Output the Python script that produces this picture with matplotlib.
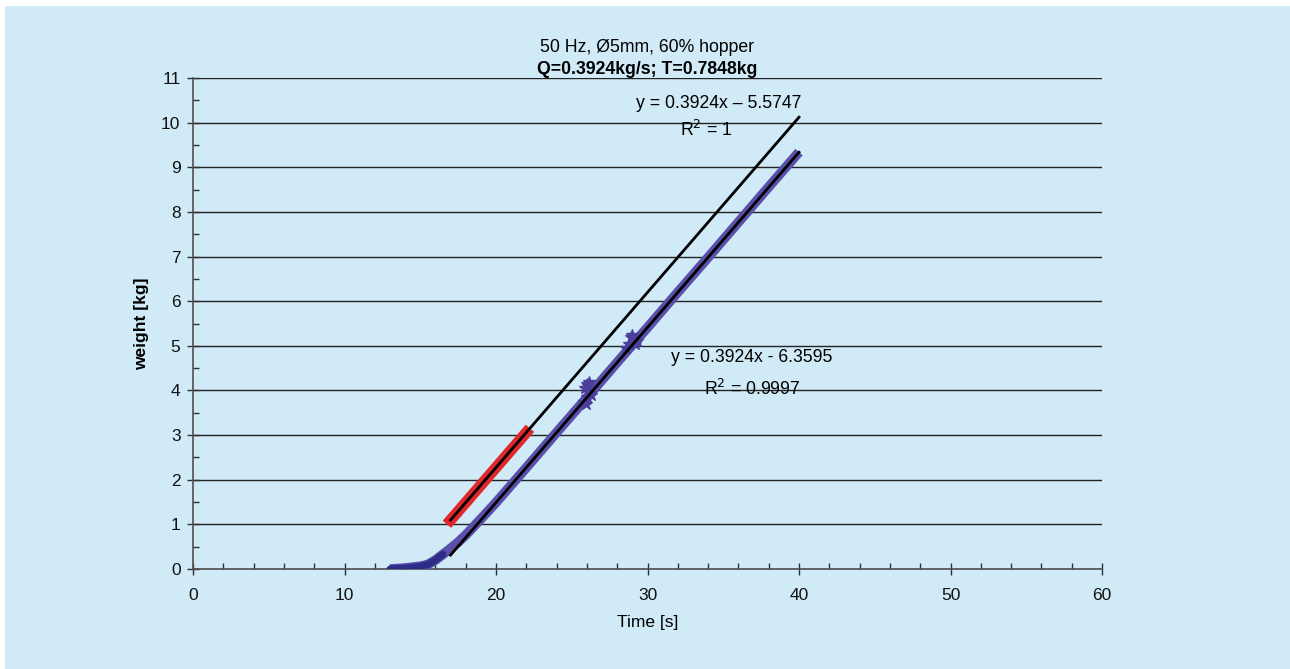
import matplotlib
matplotlib.use("Agg")
import matplotlib.pyplot as plt
from matplotlib.patches import Rectangle
import numpy as np

plt.rcParams['font.family'] = ['Liberation Sans', 'DejaVu Sans']

time_s = [13.0, 13.5, 14.0, 14.5, 15.0, 15.5, 16.0, 16.5, 17.0, 17.5, 18.0, 19.0,
          20.0, 22.0, 24.0, 26.0, 28.0, 30.0, 32.0, 34.0, 36.0, 38.0, 40.0]
weight_kg = [0.0, 0.01, 0.02, 0.04, 0.06, 0.10, 0.20, 0.33, 0.46, 0.60, 0.76, 1.12,
             1.49, 2.27, 3.06, 3.84, 4.63, 5.41, 6.20, 6.98, 7.77, 8.56, 9.34]
# scattered noisy samples around t=26 s and t=29 s
noise_t = [25.8, 25.9, 26.0, 26.0, 26.1, 26.2, 26.3, 25.95, 26.15,
           28.6, 28.8, 28.9, 29.0, 29.1, 29.2, 29.3]
noise_w = [3.75, 4.05, 4.15, 3.85, 4.10, 3.95, 3.90, 3.70, 4.20,
           4.95, 5.05, 5.20, 5.25, 5.15, 5.05, 5.10]

# trendlines: slope, intercept, x range
fit_main = dict(slope=0.3924, intercept=-6.3595, x0=17.0, x1=40.0)
fit_shift = dict(slope=0.3924, intercept=-5.5747, x0=17.0, x1=40.0)
red_range = [17.0, 22.0]

bg = '#D0EAF7'
fig = plt.figure(figsize=(12.9, 6.69), dpi=100, facecolor=bg)
fig.patches.append(Rectangle((0, 1 - 6/669), 1, 6/669, transform=fig.transFigure,
                             facecolor='white', edgecolor='none', zorder=-10))
fig.patches.append(Rectangle((0, 0), 5/1290, 1, transform=fig.transFigure,
                             facecolor='white', edgecolor='none', zorder=-10))
ax = fig.add_axes([193/1290, 1 - 569/669, (1102 - 193)/1290, (569 - 78)/669])
ax.patch.set_alpha(0)

ax.set_xlim(0, 60)
ax.set_ylim(0, 11)
ax.set_xticks(np.arange(0, 61, 10))
ax.set_xticks(np.arange(0, 61, 2), minor=True)
ax.set_yticks(np.arange(0, 12, 1))
ax.set_yticks(np.arange(0, 11.01, 0.5), minor=True)
for s in ['top', 'right']:
    ax.spines[s].set_visible(False)
for s in ['left', 'bottom']:
    ax.spines[s].set_color('#505050')
    ax.spines[s].set_linewidth(1.2)
ax.tick_params(axis='both', which='major', direction='inout', length=8, width=1,
               colors='#303030', labelsize=12.5, labelcolor='#111111')
ax.tick_params(axis='both', which='minor', direction='in', length=4, width=1,
               colors='#303030')
ax.tick_params(axis='x', pad=10)
ax.tick_params(axis='y', pad=5)
ax.yaxis.grid(True, which='major', color='#222222', linewidth=1.0)
ax.set_axisbelow(True)

# data line
t = np.array(time_s)
w = np.array(weight_kg)
ax.plot(t, w, color='#5A4FAA', linewidth=7, solid_capstyle='butt', zorder=3)
ax.plot(t[:8], w[:8], color='#2E2C86', linewidth=5, solid_capstyle='round', zorder=4)
ax.plot(noise_t, noise_w, linestyle='none', marker='*', markersize=9,
        color='#4A3F9C', zorder=3)

# red segment
rx = np.array(red_range)
ax.plot(rx, fit_shift['slope'] * rx + fit_shift['intercept'], color='#E0282A',
        linewidth=8, solid_capstyle='projecting', zorder=3)

# trendlines
for f in (fit_main, fit_shift):
    xx = np.array([f['x0'], f['x1']])
    ax.plot(xx, f['slope'] * xx + f['intercept'], color='black', linewidth=2, zorder=5)

ax.set_xlabel('Time [s]', fontsize=12.5, labelpad=8)
ax.set_ylabel('weight [kg]', fontsize=12.5, fontweight='bold', labelpad=9)

fs = 12.7
fig.text(647/1290, 1 - 47/669, '50 Hz, Ø5mm, 60% hopper', ha='center', va='center', fontsize=fs)
fig.text(647/1290, 1 - 69/669, 'Q=0.3924kg/s; T=0.7848kg', ha='center', va='center',
         fontsize=fs, fontweight='bold')

fig.text(801/1290, 1 - 103/669, 'y = 0.3924x – 5.5747', ha='right', va='center', fontsize=fs)
fig.text(706/1290, 1 - 130/669, 'R$^{2}$ = 1', ha='center', va='center', fontsize=fs)
fig.text(752/1290, 1 - 357/669, 'y = 0.3924x - 6.3595', ha='center', va='center', fontsize=fs)
fig.text(752/1290, 1 - 389/669, 'R$^{2}$ = 0.9997', ha='center', va='center', fontsize=fs)

fig.savefig('out.png', dpi=100, facecolor=bg)
